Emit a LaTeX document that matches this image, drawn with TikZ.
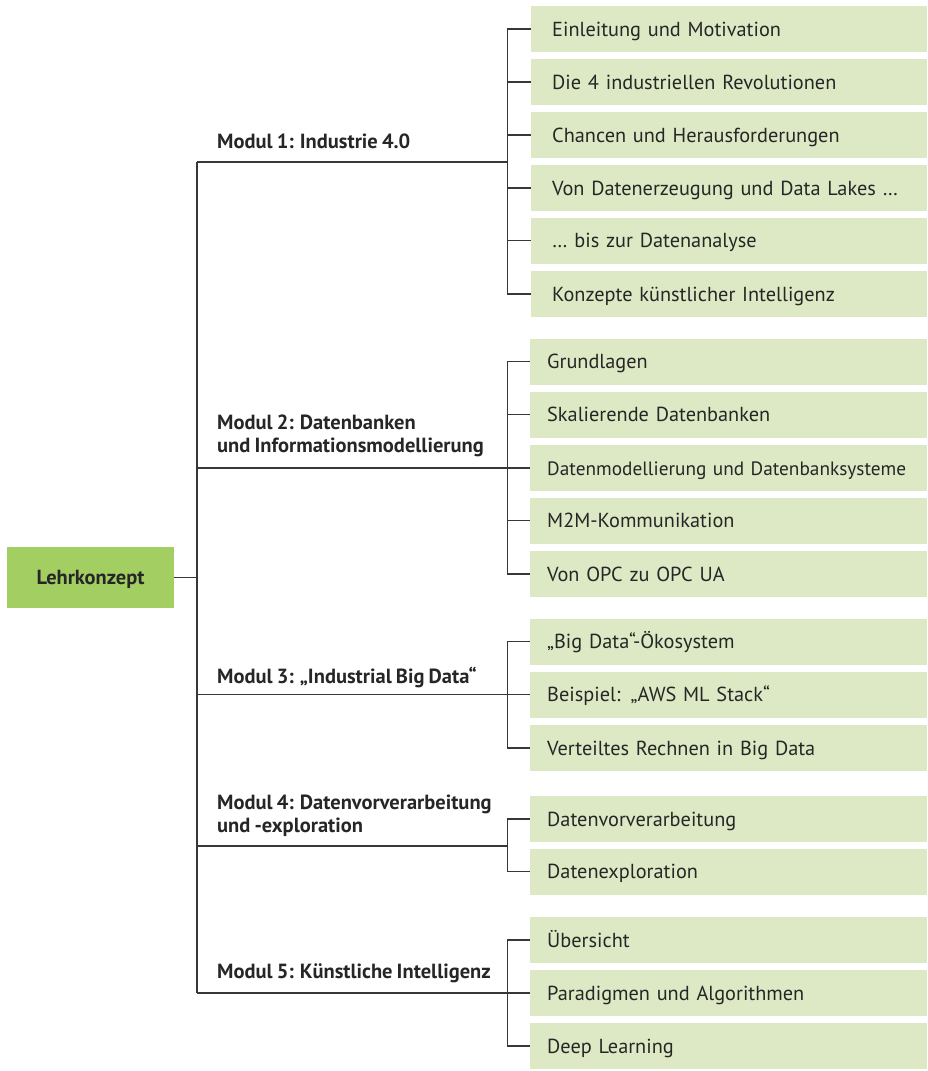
\documentclass[tikz,border=0pt]{standalone}
\usepackage{fontspec}
\setmainfont{PT Sans}[WordSpace=0.8]
\definecolor{lightgreen}{RGB}{220,233,196}
\definecolor{darkgreen}{RGB}{163,207,98}
\definecolor{ink}{RGB}{38,38,38}
\definecolor{wire}{RGB}{55,55,55}
\begin{document}
\begin{tikzpicture}[x=1pt,y=-1pt,
  topic/.style={fill=lightgreen, anchor=west, minimum width=397pt, minimum height=46pt,
    inner xsep=17pt, inner ysep=0pt, text width=363pt, align=left,
    font=\fontsize{20.3}{23}\selectfont, text=ink, text height=16.2pt, text depth=2pt},
  topicA/.style={topic, minimum width=396pt, inner xsep=21pt, text width=354pt},
  modlabel/.style={anchor=base west, inner sep=0pt, align=left, text=ink,
    font=\bfseries\fontsize{20.5}{23}\selectfont},
  rootbox/.style={fill=darkgreen, minimum width=167pt, minimum height=61pt, inner sep=0pt,
    text=ink, font=\bfseries\fontsize{20.4}{23}\selectfont, text height=16.2pt, text depth=2pt},
  wire/.style={draw=wire, line width=1.4pt}]
\useasboundingbox (0,0) rectangle (927,1071);

% root
\node[rootbox] (lk) at (90.5,577.5) {Lehrkonzept};

% module labels
\node[modlabel] (m1) at (217,148) {Modul 1: Industrie 4.0};
\node[modlabel, anchor=south west, text depth=0pt] (m2) at (217,453) {Modul 2: Datenbanken\\und Informationsmodellierung};
\node[modlabel] (m3) at (217,683) {Modul 3: „Industrial Big Data“};
\node[modlabel, anchor=south west, text depth=0pt] (m4) at (217,833) {Modul 4: Datenvorverarbeitung\\und -exploration};
\node[modlabel] (m5) at (217,978) {Modul 5: Künstliche Intelligenz};

% topics module 1
\node[topicA] (a1) at (531,29) {Einleitung und Motivation};
\node[topicA] (a2) at (531,82) {Die 4 industriellen Revolutionen};
\node[topicA] (a3) at (531,135) {Chancen und Herausforderungen};
\node[topicA] (a4) at (531,188) {Von Datenerzeugung und Data Lakes …};
\node[topicA] (a5) at (531,240.5) {… bis zur Datenanalyse};
\node[topicA] (a6) at (531,294) {Konzepte künstlicher Intelligenz};
% module 2
\node[topic] (b1) at (530,361.5) {Grundlagen};
\node[topic] (b2) at (530,414.5) {Skalierende Datenbanken};
\node[topic, font=\fontsize{19.3}{23}\selectfont] (b3) at (530,468) {\mbox{Datenmodellierung und Datenbanksysteme}};
\node[topic] (b4) at (530,520.5) {M2M-Kommunikation};
\node[topic] (b5) at (530,574) {Von OPC zu OPC UA};
% module 3
\node[topic] (c1) at (530,641.5) {„Big Data“-Ökosystem};
\node[topic] (c2) at (530,694.5) {Beispiel: „AWS ML Stack“};
\node[topic] (c3) at (530,748) {Verteiltes Rechnen in Big Data};
% module 4
\node[topic] (d1) at (530,819) {Datenvorverarbeitung};
\node[topic] (d2) at (530,871.5) {Datenexploration};
% module 5
\node[topic] (e1) at (530,940) {Übersicht};
\node[topic] (e2) at (530,993) {Paradigmen und Algorithmen};
\node[topic] (e3) at (530,1046) {Deep Learning};

% junction coordinates
\coordinate (sp1) at (197,162);
\coordinate (sp2) at (197,468);
\coordinate (sp3) at (197,694.5);
\coordinate (sp4) at (197,846);
\coordinate (sp5) at (197,993);
\coordinate (j1) at (507.5,162);
\coordinate (j2) at (507.5,468);
\coordinate (j3) at (507.5,694.5);
\coordinate (j4) at (507.5,846);
\coordinate (j5) at (507.5,993);

% connectors
\draw[wire] (sp1) -- (sp5);
\draw[wire] (lk.east) -- (lk.east -| sp1);
\foreach \k in {1,...,5} { \draw[wire] (sp\k) -- (j\k); }
\foreach \n in {1,...,6} { \draw[wire] (j1) |- (a\n.west); }
\foreach \n in {1,...,5} { \draw[wire] (j2) |- (b\n.west); }
\foreach \n in {1,...,3} { \draw[wire] (j3) |- (c\n.west); }
\foreach \n in {1,2} { \draw[wire] (j4) |- (d\n.west); }
\foreach \n in {1,...,3} { \draw[wire] (j5) |- (e\n.west); }
\end{tikzpicture}
\end{document}
